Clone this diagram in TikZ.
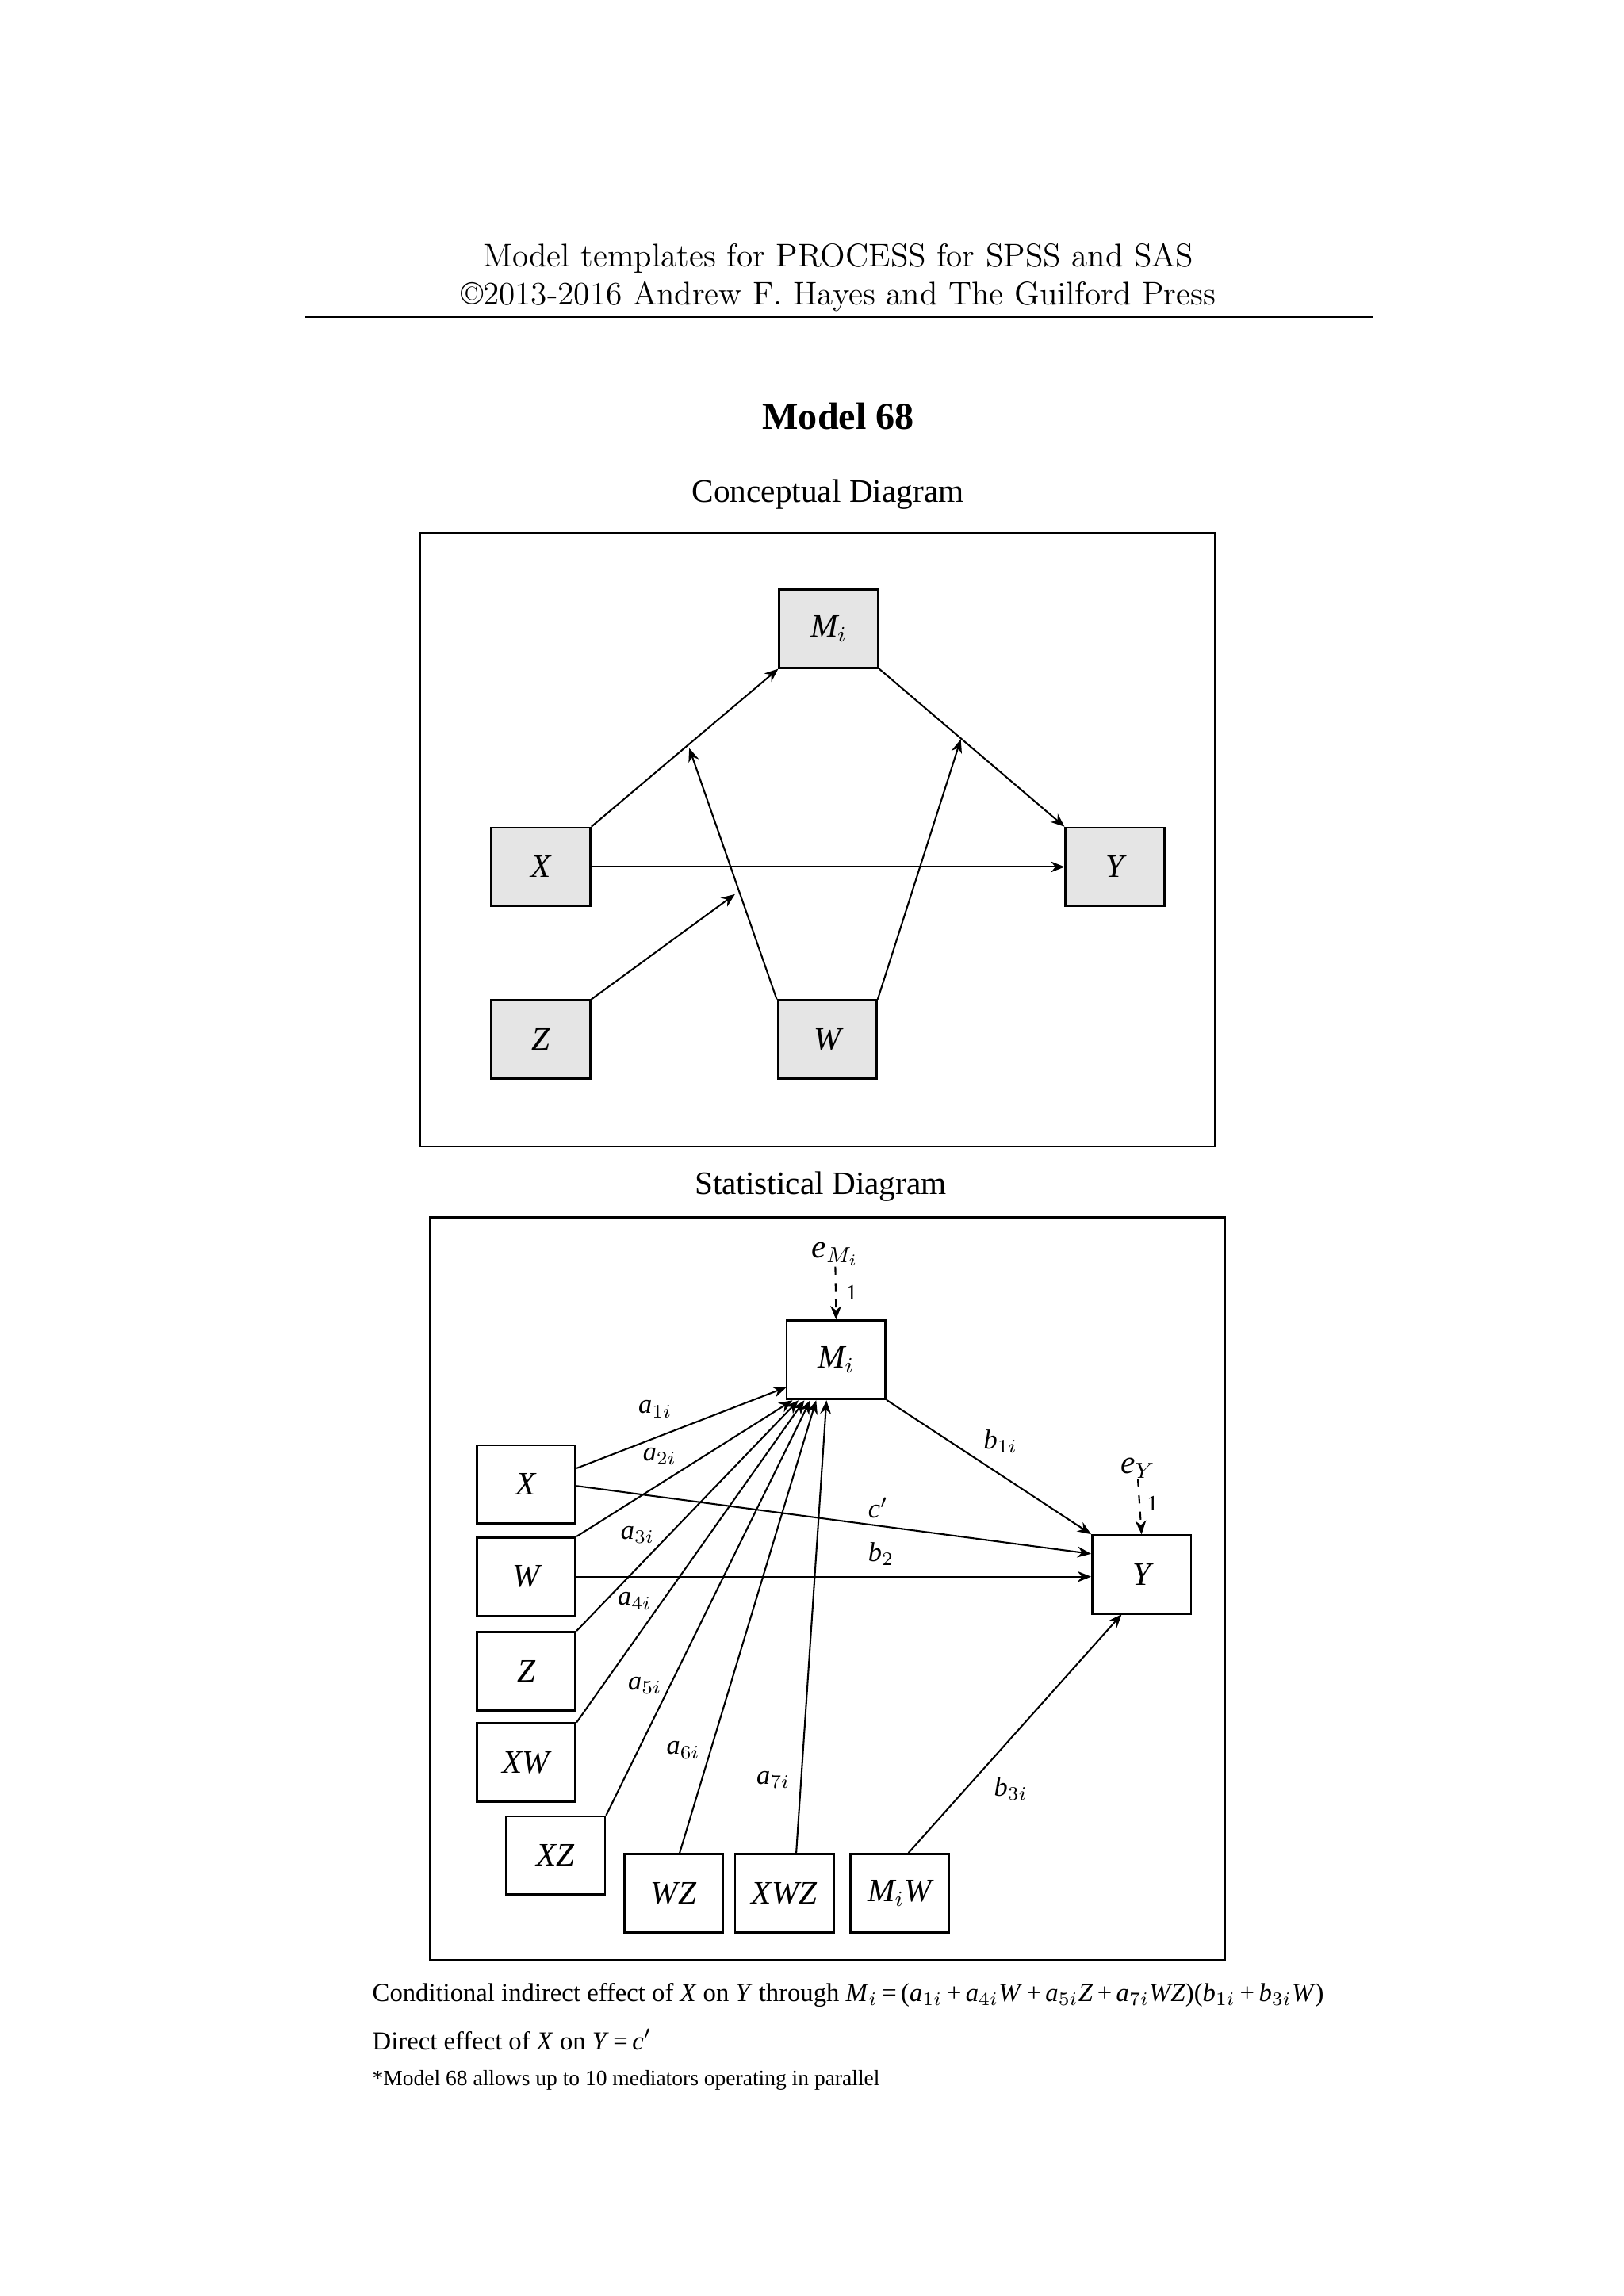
\documentclass[tikz,border=0pt]{standalone}
\usepackage{fontspec}
\newfontfamily\tms{Liberation Serif}
\usetikzlibrary{arrows.meta}
\begin{document}
\begin{tikzpicture}[x=0.541pt,y=-0.541pt,
  box/.style={draw,line width=0.8pt,minimum width=36.2pt,minimum height=28.7pt,inner sep=0pt,font=\tms\fontsize{12}{14}\selectfont\itshape},
  cbox/.style={box,fill=black!10},
  arr/.style={-{Stealth[length=5pt,width=4pt]},line width=0.6pt},
  lab/.style={font=\tms\fontsize{10}{12}\selectfont\itshape,inner sep=0pt},
  frame/.style={draw,line width=0.6pt}]
\useasboundingbox (0,0) rectangle (1100,1556);
% header
\node (h1) at (568,175) {\fontsize{12}{14}\selectfont Model templates for PROCESS for SPSS and SAS};
\node (h2) at (568,201) {\fontsize{12}{14}\selectfont \textcopyright2013-2016 Andrew F. Hayes and The Guilford Press};
\draw[line width=0.5pt] (207,215) -- (930,215);
\node (title) at (568,282) {\tms\bfseries\fontsize{14}{16}\selectfont Model 68};
\node (ct) at (561,335) {\tms\fontsize{12}{14}\selectfont Conceptual Diagram};
\draw[frame] (285,361) rectangle (823,777);
% conceptual diagram
\node[cbox] (cM) at (561.5,426) {M$_i$};
\node[cbox] (cX) at (366.5,587.5) {X};
\node[cbox] (cY) at (755.5,587.5) {Y};
\node[cbox] (cZ) at (366.5,704.5) {Z};
\node[cbox] (cW) at (560.5,704.5) {W};
\coordinate (p1) at (467,507);
\coordinate (p2) at (651,501);
\coordinate (p3) at (498,606);
\draw[arr] (cX.north east) -- (cM.south west);
\draw[arr] (cM.south east) -- (cY.north west);
\draw[arr] (cX) -- (cY);
\draw[arr] (cW.north west) -- (p1);
\draw[arr] (cW.north east) -- (p2);
\draw[arr] (cZ.north east) -- (p3);
% statistical diagram
\node (st) at (556,804) {\tms\fontsize{12}{14}\selectfont Statistical Diagram};
\draw[frame] (291,825) rectangle (830,1328);
\node[box] (M) at (566.5,921.5) {M$_i$};
\node[box] (X) at (356.5,1006) {X};
\node[box] (W) at (356.5,1068.5) {W};
\node[box] (Z) at (356.5,1132.5) {Z};
\node[box] (XW) at (356.5,1194.5) {XW};
\node[box] (XZ) at (376.5,1257.5) {XZ};
\node[box] (WZ) at (456.5,1283) {WZ};
\node[box] (XWZ) at (531.5,1283) {XWZ};
\node[box] (MW) at (609.5,1283) {M$_i$W};
\node[box] (Y) at (773.5,1067) {Y};
\node[lab,font=\tms\fontsize{12}{14}\selectfont\itshape] (eM) at (566,850) {e$_{M_i}$};
\node[lab,font=\tms\fontsize{12}{14}\selectfont\itshape] (eY) at (771,995) {e$_Y$};
\draw[arr,dashed] (eM.south) -- (M.north);
\draw[arr,dashed] (eY.south) -- (Y.north);
\node[lab,font=\tms\fontsize{8}{9}\selectfont] (one1) at (577,876) {1};
\node[lab,font=\tms\fontsize{8}{9}\selectfont] (one2) at (781,1019) {1};
\coordinate (m1) at (533,940);
\coordinate (m2) at (537,949);
\coordinate (m3) at (541,949);
\coordinate (m4) at (545,949);
\coordinate (m5) at (549,949);
\coordinate (m6) at (553,949);
\coordinate (m7) at (560,949);
\draw[arr] (X.east |- 0,995) -- (m1);
\draw[arr] (W.north east) -- (m2);
\draw[arr] (Z.north east) -- (m3);
\draw[arr] (XW.north east) -- (m4);
\draw[arr] (XZ.north east) -- (m5);
\draw[arr] (WZ.north) ++(4,0) -- (m6);
\draw[arr] (XWZ.north) ++(8,0) -- (m7);
\draw[arr] (M.south east) -- (Y.north west);
\draw[arr] (X.east |- 0,1007) -- (Y.west |- 0,1053);
\draw[arr] (W) -- (Y.west |- W);
\draw[arr] (MW.north) ++(6,0) -- (760,1094);
\node[lab] (a1) at (444,955) {a$_{1i}$};
\node[lab] (a2) at (447,987) {a$_{2i}$};
\node[lab] (a3) at (432,1040) {a$_{3i}$};
\node[lab] (a4) at (430,1085) {a$_{4i}$};
\node[lab] (a5) at (437,1142) {a$_{5i}$};
\node[lab] (a6) at (463,1186) {a$_{6i}$};
\node[lab] (a7) at (524,1206) {a$_{7i}$};
\node[lab] (b1) at (678,977) {b$_{1i}$};
\node[lab] (b3) at (685,1212) {b$_{3i}$};
\node[lab] (cp) at (595,1022) {c$'$};
\node[lab] (b2) at (597,1053) {b$_2$};
% footer
\node[anchor=west,inner sep=0pt] (f1) at (252,1352) {\tms\fontsize{9.5}{12}\selectfont Conditional indirect effect of \textit{X} on \textit{Y} through \textit{M}$_i$\,=\,(\textit{a}$_{1i}$\,+\,\textit{a}$_{4i}$\textit{W}\,+\,\textit{a}$_{5i}$\textit{Z}\,+\,\textit{a}$_{7i}$\textit{WZ})(\textit{b}$_{1i}$\,+\,\textit{b}$_{3i}$\textit{W})};
\node[anchor=west,inner sep=0pt] (f2) at (252,1382) {\tms\fontsize{9.5}{12}\selectfont Direct effect of \textit{X} on \textit{Y}\,=\,\textit{c}$'$};
\node[anchor=west,inner sep=0pt] (f3) at (252,1410) {\tms\fontsize{8}{10}\selectfont *Model 68 allows up to 10 mediators operating in parallel};
\end{tikzpicture}
\end{document}
